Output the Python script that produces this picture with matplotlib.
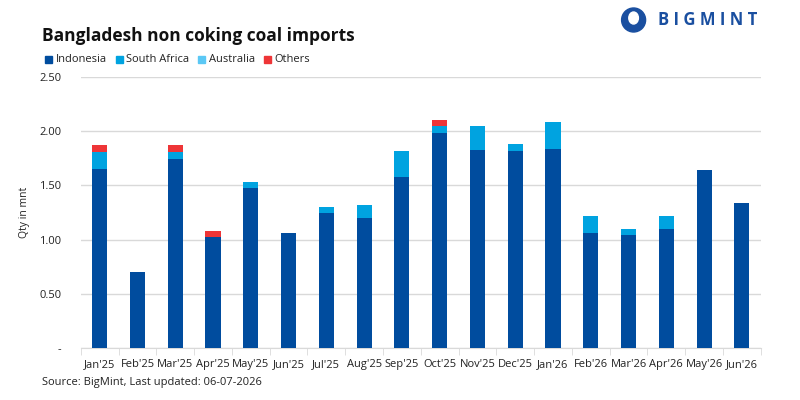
import numpy as np
import matplotlib.pyplot as plt
from matplotlib.patches import Ellipse

months = ["Jan'25", "Feb'25", "Mar'25", "Apr'25", "May'25", "Jun'25", "Jul'25", "Aug'25", "Sep'25",
          "Oct'25", "Nov'25", "Dec'25", "Jan'26", "Feb'26", "Mar'26", "Apr'26", "May'26", "Jun'26"]
indonesia = [1.65, 0.70, 1.74, 1.02, 1.475, 1.06, 1.245, 1.20, 1.577, 1.983, 1.827, 1.817, 1.836,
             1.061, 1.042, 1.098, 1.642, 1.338]
south_africa = [0.158, 0.0, 0.065, 0.0, 0.055, 0.0, 0.055, 0.12, 0.24, 0.068, 0.221, 0.065, 0.249,
                0.157, 0.056, 0.12, 0.0, 0.0]
australia = [0.0] * 18
others = [0.065, 0.0, 0.065, 0.057, 0.0, 0.0, 0.0, 0.0, 0.0, 0.052, 0.0, 0.0, 0.0,
          0.0, 0.0, 0.0, 0.0, 0.0]

c_ind = "#004C9E"
c_sa = "#00A3E0"
c_aus = "#5BC8F5"
c_oth = "#EE3537"

plt.rcParams['font.family'] = ['Open Sans', 'DejaVu Sans']

fig = plt.figure(figsize=(8, 4), dpi=100)
ax = fig.add_axes([0.101, 0.13, 0.85, 0.6775])

x = np.arange(len(months))
w = 0.4
ind = np.array(indonesia)
sa = np.array(south_africa)
aus = np.array(australia)
oth = np.array(others)
ax.bar(x, ind, w, color=c_ind, zorder=3)
ax.bar(x, sa, w, bottom=ind, color=c_sa, zorder=3)
ax.bar(x, aus, w, bottom=ind + sa, color=c_aus, zorder=3)
ax.bar(x, oth, w, bottom=ind + sa + aus, color=c_oth, zorder=3)

ax.set_xlim(-0.5, len(months) - 0.5)
ax.set_ylim(0, 2.5)
ax.set_yticks([0, 0.5, 1.0, 1.5, 2.0, 2.5])
ax.set_yticklabels(["-", "0.50", "1.00", "1.50", "2.00", "2.50"], fontsize=8, color="#222222")
ax.yaxis.grid(True, color="#D9D9D9", linewidth=1, zorder=0)
ax.tick_params(axis='y', length=0, pad=14)

ax.set_xticks(x)
ax.set_xticklabels(months, fontsize=8, color="#222222")
ax.set_xticks(np.arange(-0.5, len(months)), minor=True)
ax.tick_params(axis='x', which='major', length=0, pad=8)
ax.tick_params(axis='x', which='minor', length=5, color="#D9D9D9")

for s in ['top', 'right', 'left']:
    ax.spines[s].set_visible(False)
ax.spines['bottom'].set_color("#D9D9D9")

ax.set_ylabel("Qty in mnt", fontsize=7.5, color="#222222")
ax.yaxis.set_label_coords(-0.075, 0.5)

fig.text(0.053, 0.91, "Bangladesh non coking coal imports", fontsize=12.5, fontweight='bold',
         color="#111111", va='center')

# legenda
lx = 0.056
for name, col in [("Indonesia", c_ind), ("South Africa", c_sa), ("Australia", c_aus), ("Others", c_oth)]:
    fig.patches.append(plt.Rectangle((lx, 0.8425), 0.009, 0.018, color=col, transform=fig.transFigure))
    t = fig.text(lx + 0.0135, 0.851, name, fontsize=8, color="#222222", va='center')
    fig.canvas.draw()
    bb = t.get_window_extent()
    lx = bb.x1 / 800 + 0.011

fig.text(0.053, 0.043, "Source: BigMint, Last updated: 06-07-2026", fontsize=8, color="#222222", va='center')

# logo
fig.patches.append(Ellipse((0.792, 0.95), 0.03, 0.06, color="#1A4FA0", transform=fig.transFigure))
fig.patches.append(Ellipse((0.792, 0.955), 0.012, 0.03, color="white", transform=fig.transFigure))
fig.text(0.822, 0.95, "B I G M I N T", fontsize=12, fontweight='bold', color="#1A4FA0", va='center')

fig.savefig("out.png", dpi=100)
